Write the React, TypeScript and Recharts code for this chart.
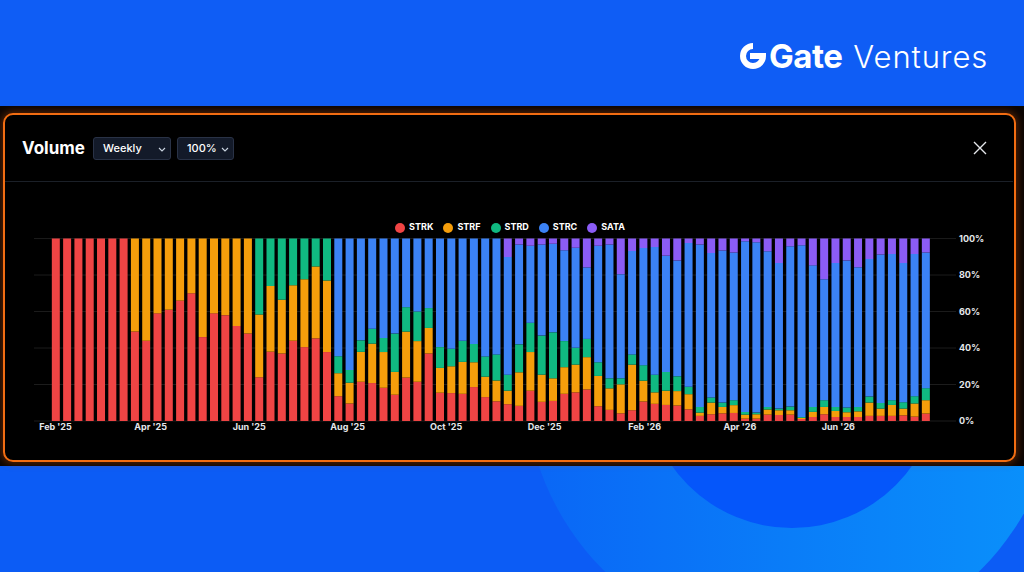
import { BarChart, Bar, XAxis, YAxis, CartesianGrid, Legend } from 'recharts'

// weekly share of volume (%), one entry per week starting 2025-02-01
const strk = [
  100, 100, 100, 100, 100, 100, 100, 49, 44, 59, 61, 66, 70, 46, 59, 58, 52, 48,
  24, 38, 37, 44, 40.5, 45.3, 37.8,
  13.6, 9.6, 21.5, 20.8, 18.2, 14.4, 23.8, 21.5, 37.0, 15.5, 15.3, 14.9, 18.6, 13.1, 10.8,
  9.2, 8.3, 16.6, 10.5, 11.0, 14.9, 15.7, 17.3, 8.1, 6.1,
  4.2, 5.9, 10.7, 9.4, 8.8, 8.5, 6.4, 2.8, 3.7, 4.2,
  4.4, 1.3, 1.3, 3.5, 3.3, 3.5, 1.1, 2.2, 3.7, 2.2,
  2.2, 2.2, 2.8, 2.8, 2.8, 3.1, 2.4, 4.1,
]
const strf = [
  0, 0, 0, 0, 0, 0, 0, 51, 56, 41, 39, 34, 30, 54, 41, 42, 48, 52,
  34.4, 36, 29.5, 30.4, 37.2, 39.4, 39.2,
  12.6, 11.4, 16.4, 21.6, 19.6, 12.5, 25.2, 22.3, 14.0, 13.6, 14.7, 17.5, 13.6, 11.2, 11.4,
  7.4, 18.4, 21.2, 14.9, 12.4, 14.6, 15.2, 17.7, 16.6, 11.8,
  15.9, 25.0, 11.4, 6.3, 7.8, 7.9, 8.3, 1.8, 6.4, 3.5,
  4.3, 2.2, 2.4, 2.8, 2.6, 2.4, 0.6, 2.8, 4.0, 3.3,
  2.6, 3.1, 7.3, 4.0, 6.0, 3.7, 7.2, 7.3,
]
const strd = [
  0, 0, 0, 0, 0, 0, 0, 0, 0, 0, 0, 0, 0, 0, 0, 0, 0, 0,
  41.6, 26, 33.5, 25.6, 22.3, 15.3, 23.0,
  9.3, 7.0, 6.3, 8.2, 7.7, 21.0, 13.4, 16.2, 10.9, 11.4, 9.6, 11.6, 10.0, 11.1, 14.3,
  8.8, 15.3, 16.0, 21.4, 25.2, 14.3, 9.2, 10.0, 7.5, 5.5,
  3.3, 5.6, 8.5, 9.7, 10.3, 8.1, 4.1, 3.1, 2.8, 2.4,
  2.7, 1.5, 0.9, 1.4, 0.9, 2.0, 0.5, 2.7, 3.7, 2.2,
  2.6, 2.4, 3.3, 3.1, 2.6, 3.5, 4.0, 6.6,
]
const strc = [
  0, 0, 0, 0, 0, 0, 0, 0, 0, 0, 0, 0, 0, 0, 0, 0, 0, 0,
  0, 0, 0, 0, 0, 0, 0,
  64.5, 72.0, 55.8, 49.4, 54.5, 52.1, 37.6, 40.0, 38.1, 59.5, 60.4, 56.0, 57.8, 64.6, 63.5,
  64.5, 54.7, 42.3, 49.9, 48.6, 49.8, 54.9, 39.2, 63.9, 73.3,
  57.1, 56.7, 64.2, 70.0, 63.7, 63.5, 78.8, 89.0, 79.2, 83.3,
  81.0, 93.5, 93.4, 85.3, 79.8, 87.9, 94.1, 77.6, 66.3, 78.9,
  80.6, 76.6, 75.4, 81.3, 80.1, 76.3, 77.9, 74.4,
]
const sata = [
  0, 0, 0, 0, 0, 0, 0, 0, 0, 0, 0, 0, 0, 0, 0, 0, 0, 0,
  0, 0, 0, 0, 0, 0, 0,
  0, 0, 0, 0, 0, 0, 0, 0, 0, 0, 0, 0, 0, 0, 0,
  10.1, 3.3, 3.9, 3.3, 2.8, 6.4, 5.0, 15.8, 3.9, 3.3,
  19.5, 6.8, 5.2, 4.6, 9.4, 12.0, 2.4, 3.3, 7.9, 6.6,
  7.6, 1.5, 2.0, 7.0, 13.4, 4.2, 3.7, 14.7, 22.3, 13.4,
  12.0, 15.7, 11.2, 8.8, 8.5, 13.4, 8.5, 7.6,
]

const firstWeek = '2025-02-01'
const tickDates = ['2025-02-01', '2025-04-01', '2025-06-01', '2025-08-01', '2025-10-01', '2025-12-01', '2026-02-01', '2026-04-01', '2026-06-01']
const tickLabels = ["Feb '25", "Apr '25", "Jun '25", "Aug '25", "Oct '25", "Dec '25", "Feb '26", "Apr '26", "Jun '26"]
const yTicks = [0, 0.2, 0.4, 0.6, 0.8, 1]

const series = [
  { key: 'STRK', values: strk, color: '#ef4444' },
  { key: 'STRF', values: strf, color: '#f59e0b' },
  { key: 'STRD', values: strd, color: '#10b981' },
  { key: 'STRC', values: strc, color: '#3b82f6' },
  { key: 'SATA', values: sata, color: '#8b5cf6' },
]
const seriesOrder = series.map((s) => s.key)

const WEEK_MS = 7 * 24 * 3600 * 1000
const toWeek = (d: string) => (Date.parse(d) - Date.parse(firstWeek)) / WEEK_MS
const xTicks = tickDates.map(toWeek)

const data = strk.map((_, i) => {
  const row: Record<string, number> = { week: i }
  for (const s of series) row[s.key] = s.values[i]
  return row
})

const font = 'Inter, "Liberation Sans", Arial, sans-serif'

function Select({ label, left, width }: { label: string; left: number; width: number }) {
  return (
    <div
      style={{
        position: 'absolute', left, top: 137, width, height: 23, boxSizing: 'border-box',
        background: '#131a29', border: '1px solid #293246', borderRadius: 3,
        color: '#fff', fontSize: 11, fontWeight: 500, lineHeight: '21px', paddingLeft: 9,
      }}
    >
      {label}
      <svg width="8" height="5" style={{ position: 'absolute', right: 4, top: 9 }}>
        <path d="M1 1 L4 4 L7 1" stroke="#cbd5e1" strokeWidth="1.1" fill="none" />
      </svg>
    </div>
  )
}

export default function App() {
  return (
    <div
      style={{
        position: 'fixed', left: 0, top: 0, width: 1024, height: 572, overflow: 'hidden',
        background: '#0c5cf5', fontFamily: font,
      }}
    >
      {/* bottom ring decoration */}
      <div
        style={{
          position: 'absolute', left: 792 - 267, top: 381 - 267, width: 534, height: 534, borderRadius: '50%',
          background: 'linear-gradient(90deg, #0a66f6 0%, #0a7df8 50%, #0a92fb 100%)',
        }}
      />
      <div
        style={{
          position: 'absolute', left: 792 - 147, top: 381 - 147, width: 294, height: 294, borderRadius: '50%',
          background: '#0556fa',
        }}
      />

      {/* top band */}
      <div style={{ position: 'absolute', left: 0, top: 0, width: 1024, height: 106, background: '#0f5df5' }} />

      {/* logo */}
      <div style={{ position: 'absolute', left: 740, top: 36, display: 'flex', alignItems: 'center', color: '#fff' }}>
        <svg width="26" height="28" viewBox="0 0 26 28" style={{ marginRight: 3 }}>
          <path d="M13 4 A10 10 0 1 0 23 14 L13 14" stroke="#fff" strokeWidth="6" fill="none" />
          <rect x="10" y="11" width="6" height="6" fill="#fff" />
        </svg>
        <span style={{ fontSize: 33, fontWeight: 700, letterSpacing: -0.5 }}>Gate</span>
        <span style={{ fontSize: 31, fontWeight: 300, marginLeft: 11, letterSpacing: 0.9 }}>Ventures</span>
      </div>

      {/* dark band */}
      <div style={{ position: 'absolute', left: 0, top: 106, width: 1024, height: 360, background: '#0b0503' }} />

      {/* panel */}
      <div
        style={{
          position: 'absolute', left: 3, top: 113, width: 1013, height: 349, boxSizing: 'border-box',
          background: '#000', border: '2px solid #f26d12', borderRadius: 10,
          boxShadow: '0 0 7px 2px rgba(200, 80, 10, 0.35)',
        }}
      />

      <div style={{ position: 'absolute', left: 22, top: 137, color: '#fff', fontSize: 17, fontWeight: 700, lineHeight: '23px' }}>
        Volume
      </div>
      <Select label="Weekly" left={93} width={78} />
      <Select label="100%" left={177} width={57} />

      <svg width="14" height="14" style={{ position: 'absolute', left: 973, top: 141 }}>
        <path d="M1 1 L13 13 M13 1 L1 13" stroke="#e5e7eb" strokeWidth="1.4" />
      </svg>

      <div style={{ position: 'absolute', left: 5, top: 181, width: 1008, height: 1, background: '#1b2028' }} />

      <div style={{ position: 'absolute', left: 0, top: 205 }}>
        <BarChart
          width={1024}
          height={250}
          data={data}
          stackOffset="expand"
          margin={{ top: 22, right: 28, bottom: 14, left: 34 }}
          style={{ fontFamily: font }}
        >
          <CartesianGrid vertical={false} stroke="#1c1c1c" />
          <XAxis
            type="number"
            dataKey="week"
            domain={[-1.9, 79.7]}
            ticks={xTicks}
            interval={0}
            allowDataOverflow
            axisLine={false}
            tickLine={false}
            tickSize={0}
            tickMargin={3}
            height={20}
            tick={{ fill: '#e5e7eb', fontSize: 9, fontWeight: 700 }}
            tickFormatter={(v: number) => tickLabels[xTicks.findIndex((t) => Math.abs(t - v) < 1e-6)] ?? ''}
          />
          <YAxis
            orientation="right"
            domain={[0, 1]}
            ticks={yTicks}
            width={40}
            axisLine={false}
            tickLine={false}
            tickSize={0}
            tickMargin={3}
            tick={{ fill: '#e5e7eb', fontSize: 9, fontWeight: 700 }}
            tickFormatter={(v: number) => `${Math.round(v * 100)}%`}
          />
          <Legend
            verticalAlign="top"
            iconType="circle"
            iconSize={10}
            itemSorter={(item: any) => seriesOrder.indexOf(String(item.value))}
            wrapperStyle={{ top: 16, fontSize: 9 }}
            formatter={(v: string) => <span style={{ color: '#fff', fontWeight: 700, fontSize: 9 }}>{v}</span>}
          />
          {series.map((s) => (
            <Bar key={s.key} dataKey={s.key} stackId="v" fill={s.color} barSize={8} isAnimationActive={false} />
          ))}
        </BarChart>
      </div>
    </div>
  )
}
